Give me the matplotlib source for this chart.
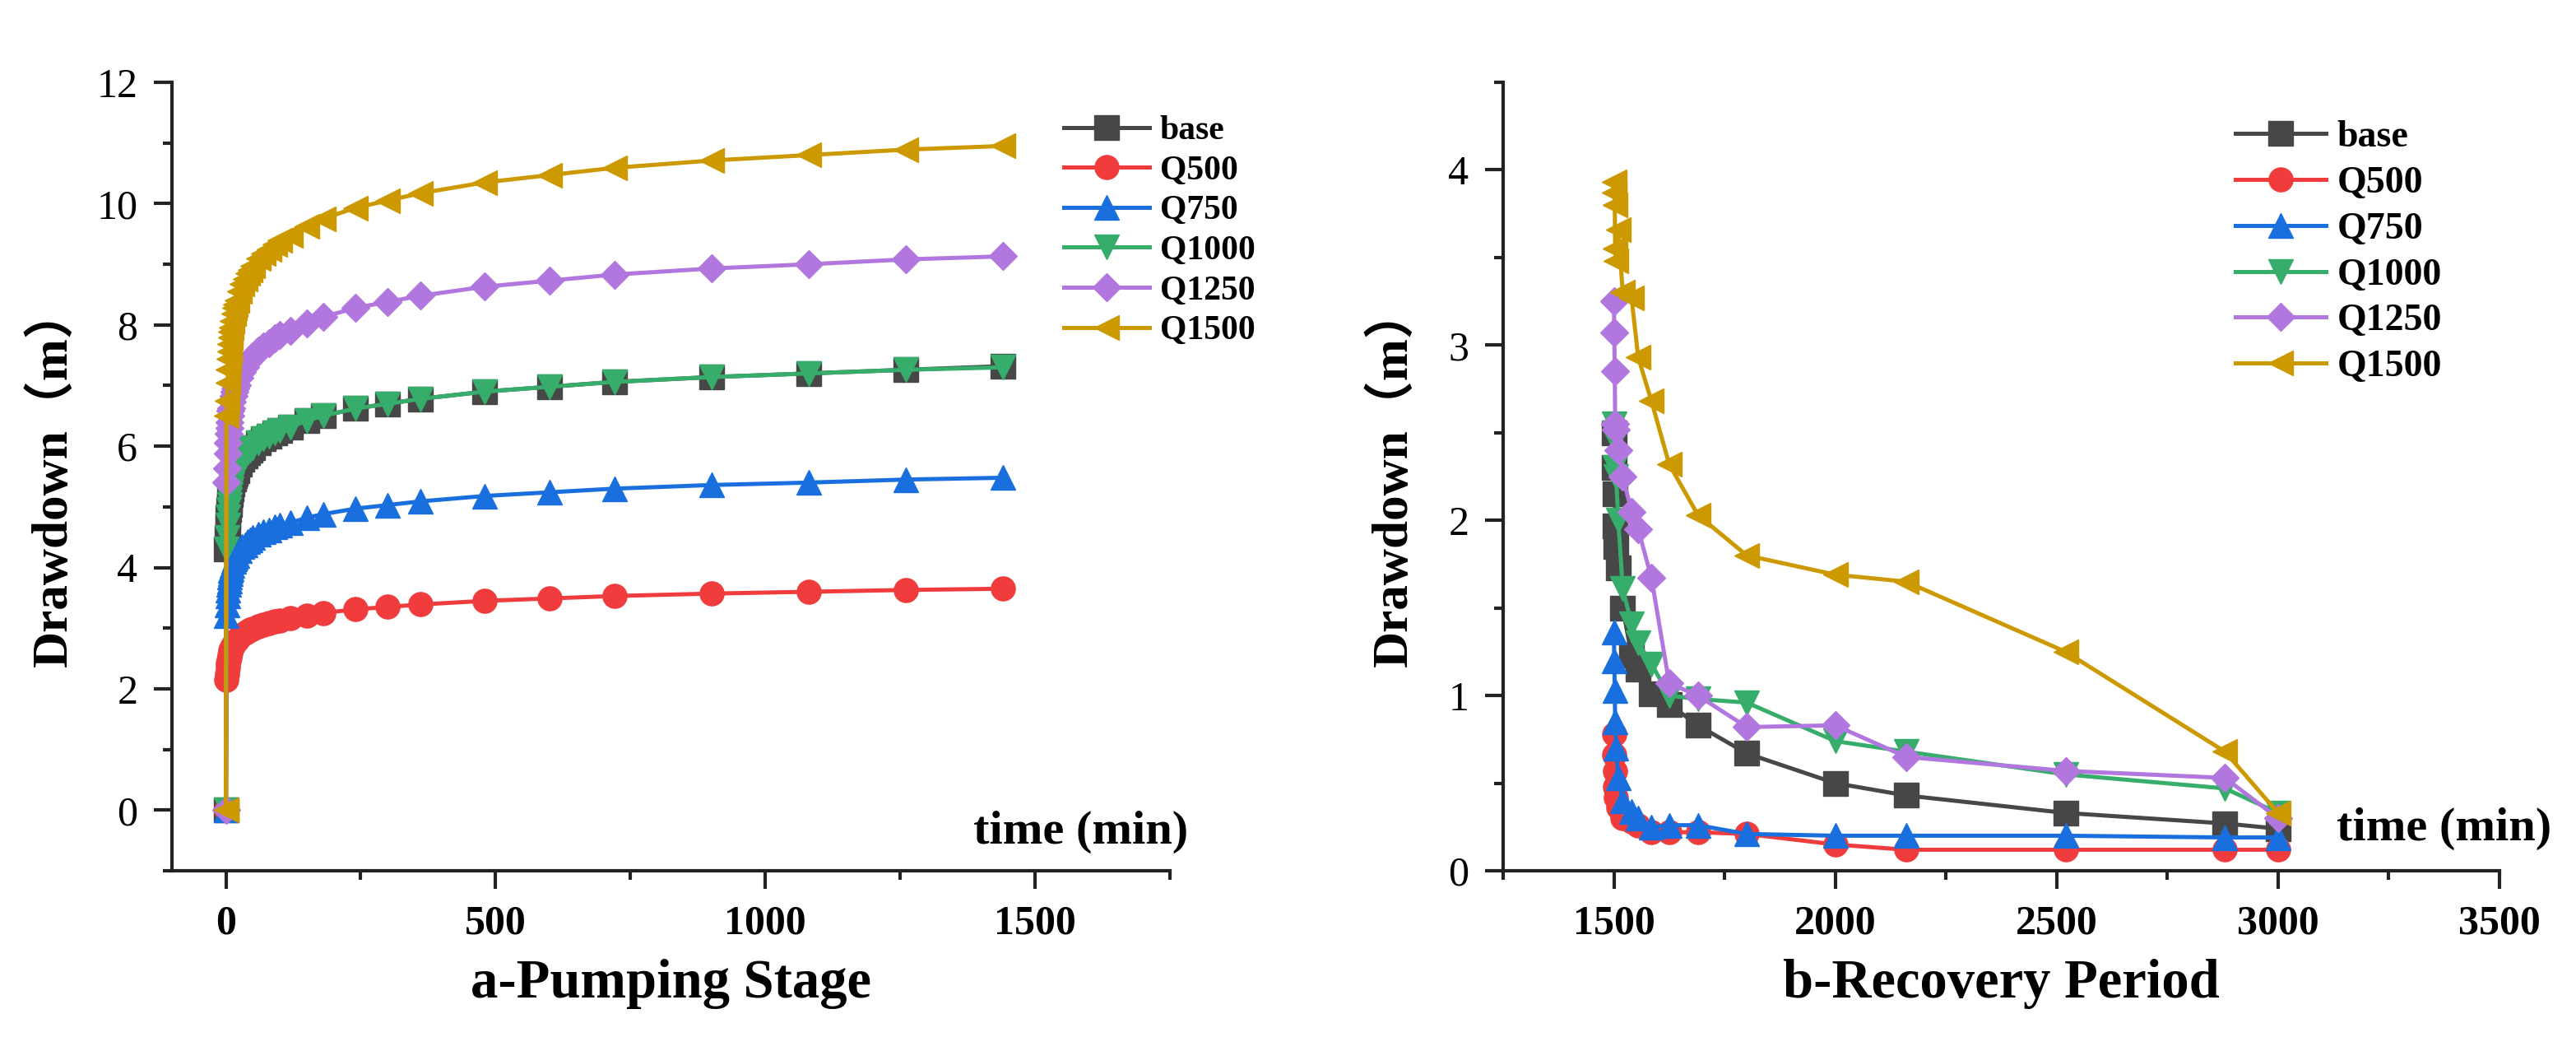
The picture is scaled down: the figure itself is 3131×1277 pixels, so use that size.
import matplotlib
matplotlib.use('Agg')
import matplotlib.pyplot as plt
from matplotlib.ticker import MultipleLocator

plt.rcParams['font.family'] = ['Liberation Serif', 'Noto Sans CJK SC', 'DejaVu Serif']

# ---------------- data ----------------
names = ['base', 'Q500', 'Q750', 'Q1000', 'Q1250', 'Q1500']
colors = ['#474747', '#F03C3C', '#1A6FDF', '#37AD6B', '#B177DE', '#CC9900']
markers = ['s', 'o', '^', 'v', 'D', '<']

# a - pumping stage
t_pump = [0, 1, 2, 3, 4, 5, 6, 7, 8, 9, 10, 12, 14, 16, 18, 20, 25, 30, 35, 40,
          45, 50, 60, 70, 80, 90, 100, 120, 150, 180, 240, 300, 360, 480, 600,
          720, 900, 1080, 1260, 1440]
p_base = [0, 4.30, 4.50, 4.70, 4.84, 4.96, 5.04, 5.12, 5.20, 5.26, 5.30, 5.38, 5.46,
          5.52, 5.56, 5.60, 5.70, 5.78, 5.84, 5.90, 5.94, 5.98, 6.06, 6.12, 6.16,
          6.22, 6.26, 6.32, 6.42, 6.50, 6.62, 6.70, 6.78, 6.90, 6.98, 7.06, 7.14,
          7.20, 7.26, 7.32]
p_q500 = [0, 2.15, 2.25, 2.35, 2.42, 2.48, 2.52, 2.56, 2.60, 2.63, 2.65, 2.69, 2.73,
          2.76, 2.78, 2.80, 2.85, 2.89, 2.92, 2.95, 2.97, 2.99, 3.03, 3.06, 3.08,
          3.11, 3.13, 3.16, 3.21, 3.25, 3.31, 3.35, 3.39, 3.45, 3.49, 3.53, 3.57,
          3.60, 3.63, 3.65]
p_q750 = [0, 3.20, 3.38, 3.53, 3.63, 3.72, 3.78, 3.84, 3.90, 3.95, 3.98, 4.04, 4.10,
          4.14, 4.17, 4.20, 4.28, 4.34, 4.38, 4.43, 4.46, 4.49, 4.55, 4.59, 4.62,
          4.67, 4.70, 4.74, 4.82, 4.88, 4.97, 5.03, 5.09, 5.18, 5.24, 5.30, 5.36,
          5.40, 5.45, 5.48]
p_q1000 = [0, 4.30, 4.50, 4.70, 4.84, 4.96, 5.04, 5.12, 5.20, 5.26, 5.30, 5.38, 5.46,
           5.52, 5.56, 5.60, 5.70, 5.78, 5.84, 5.90, 5.94, 5.98, 6.06, 6.12, 6.16,
           6.22, 6.26, 6.32, 6.42, 6.50, 6.62, 6.70, 6.78, 6.90, 6.98, 7.06, 7.14,
           7.20, 7.26, 7.30]
p_q1250 = [0, 5.40, 5.63, 5.88, 6.05, 6.20, 6.30, 6.40, 6.50, 6.58, 6.63, 6.73, 6.83,
           6.90, 6.95, 7.00, 7.13, 7.23, 7.30, 7.38, 7.43, 7.48, 7.58, 7.65, 7.70,
           7.78, 7.83, 7.90, 8.03, 8.13, 8.28, 8.38, 8.48, 8.63, 8.73, 8.83, 8.93,
           9.00, 9.08, 9.13]
p_q1500 = [0, 6.50, 6.75, 7.05, 7.26, 7.44, 7.56, 7.68, 7.80, 7.89, 7.95, 8.07, 8.19,
           8.28, 8.34, 8.40, 8.55, 8.67, 8.76, 8.85, 8.91, 8.97, 9.09, 9.18, 9.24,
           9.33, 9.39, 9.48, 9.63, 9.75, 9.93, 10.05, 10.17, 10.35, 10.47, 10.59,
           10.71, 10.80, 10.89, 10.95]

# b - recovery period
t_rec = [1500, 1501, 1502, 1503, 1505, 1510, 1520, 1540, 1555, 1585, 1625, 1690,
         1800, 2000, 2160, 2520, 2880, 3000]
r_base = [2.50, 2.30, 2.15, 1.97, 1.85, 1.73, 1.50, 1.23, 1.15, 1.01, 0.95, 0.83,
          0.67, 0.50, 0.43, 0.33, 0.27, 0.24]
r_q500 = [0.78, 0.66, 0.57, 0.48, 0.42, 0.36, 0.30, 0.28, 0.26, 0.22, 0.22, 0.22,
          0.21, 0.15, 0.12, 0.12, 0.12, 0.12]
r_q750 = [1.36, 1.20, 1.03, 0.85, 0.70, 0.53, 0.40, 0.34, 0.30, 0.25, 0.26, 0.26,
          0.21, 0.20, 0.20, 0.20, 0.19, 0.19]
r_q1000 = [2.55, 2.50, 2.45, 2.30, 2.25, 2.00, 1.61, 1.41, 1.30, 1.18, 1.00, 0.98,
           0.96, 0.74, 0.68, 0.55, 0.47, 0.33]
r_q1250 = [3.25, 3.07, 2.85, 2.55, 2.52, 2.40, 2.25, 2.05, 1.95, 1.67, 1.07, 1.00,
           0.82, 0.83, 0.65, 0.57, 0.53, 0.30]
r_q1500 = [3.87, 3.93, 3.80, 3.55, 3.48, 3.66, 3.30, 3.27, 2.93, 2.68, 2.32, 2.03,
           1.80, 1.69, 1.65, 1.25, 0.68, 0.33]

pump_series = [p_base, p_q500, p_q750, p_q1000, p_q1250, p_q1500]
rec_series = [r_base, r_q500, r_q750, r_q1000, r_q1250, r_q1500]

# ---------------- figure ----------------
W, H = 3131, 1277
fig = plt.figure(figsize=(W / 100, H / 100), dpi=100)
ax1 = fig.add_axes([209 / W, 1 - 1058 / H, (1422 - 209) / W, (1058 - 100) / H])
ax2 = fig.add_axes([1827 / W, 1 - 1058 / H, (3038 - 1827) / W, (1058 - 100) / H])


def draw(ax, t, series):
    for s, n, c, m in zip(series, names, colors, markers):
        ms = 17 if m == 'D' else 21
        ax.plot(t, s, color=c, lw=3.6, marker=m, ms=ms, mfc=c, mec=c, mew=1,
                label=n, clip_on=False)


draw(ax1, t_pump, pump_series)
draw(ax2, t_rec, rec_series)

for ax in (ax1, ax2):
    for side in ('top', 'right'):
        ax.spines[side].set_visible(False)
    for side in ('left', 'bottom'):
        ax.spines[side].set_linewidth(3)
        ax.spines[side].set_color('#222222')
    ax.tick_params(which='major', direction='out', length=16, width=3,
                   labelsize=36, pad=14, color='#222222')
    ax.tick_params(which='minor', direction='out', length=8, width=3,
                   color='#222222')

ax1.set_xlim(-100, 1750)
ax1.set_ylim(-1, 12)
ax1.set_xticks([0, 500, 1000, 1500])
ax1.xaxis.set_minor_locator(MultipleLocator(250))
ax1.set_yticks([0, 2, 4, 6, 8, 10, 12])
ax1.yaxis.set_minor_locator(MultipleLocator(1))

ax2.set_xlim(1250, 3500)
ax2.set_ylim(0, 4.5)
ax2.set_xticks([1500, 2000, 2500, 3000, 3500])
ax2.xaxis.set_minor_locator(MultipleLocator(250))
ax2.set_yticks([0, 1, 2, 3, 4])
ax2.yaxis.set_minor_locator(MultipleLocator(0.5))

for ax in (ax1, ax2):
    for lbl in ax.get_xticklabels():
        lbl.set_fontweight('bold')

ax1.set_xlabel('a-Pumping Stage', fontsize=48, fontweight='bold', labelpad=14)
ax2.set_xlabel('b-Recovery Period', fontsize=48, fontweight='bold', labelpad=14)
ax1.set_ylabel('Drawdown（m）', fontsize=44, fontweight='bold')
ax2.set_ylabel('Drawdown（m）', fontsize=44, fontweight='bold')
ax1.yaxis.set_label_coords(-0.095, 0.5)
ax2.yaxis.set_label_coords(-0.086, 0.5)

fig.text(1183 / W, 1 - 1025 / H, 'time (min)', fontsize=42, fontweight='bold',
         ha='left', va='baseline')
fig.text(2840 / W, 1 - 1021 / H, 'time (min)', fontsize=42, fontweight='bold',
         ha='left', va='baseline')

leg_kw = dict(loc='upper left', bbox_transform=fig.transFigure, frameon=False,
              borderpad=0, borderaxespad=0, handletextpad=0.3)
ax1.legend(bbox_to_anchor=(1293 / W, 1 - 140 / H), prop={'weight': 'bold', 'size': 30},
           handlelength=2.5, labelspacing=0.25, **leg_kw)
ax2.legend(bbox_to_anchor=(2717 / W, 1 - 146 / H), prop={'weight': 'bold', 'size': 33},
           handlelength=2.4, labelspacing=0.3, **leg_kw)

fig.savefig('out.png', dpi=100)
